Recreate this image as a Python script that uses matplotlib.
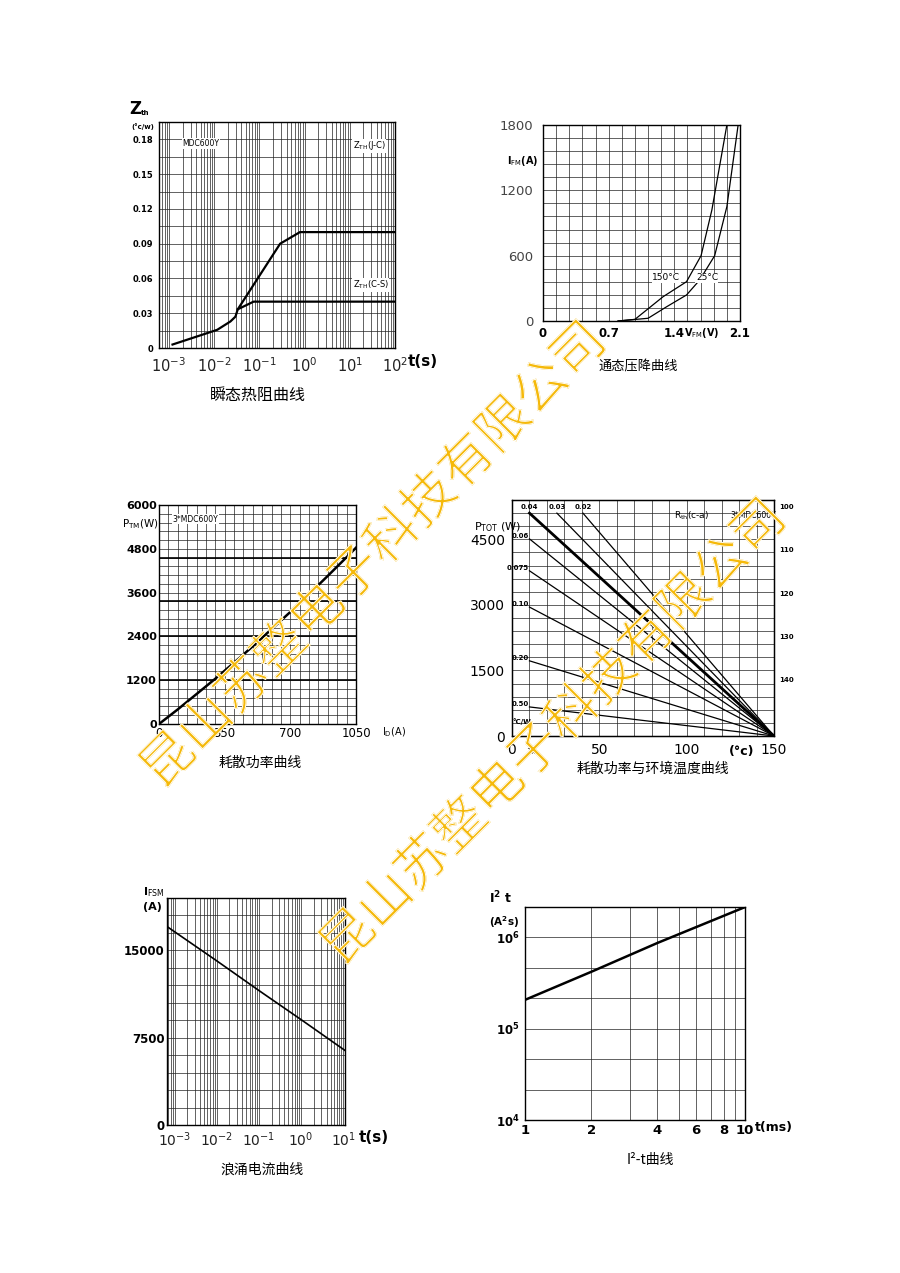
import matplotlib
matplotlib.use('Agg')
import matplotlib.pyplot as plt
import matplotlib.patheffects as pe
from matplotlib.transforms import TransformedPath
import numpy as np

plt.rcParams['font.family'] = ['DejaVu Sans', 'Noto Sans CJK SC']
plt.rcParams['mathtext.default'] = 'regular'
CJK = ['Noto Sans CJK SC', 'DejaVu Sans']

# ---------------- data ----------------
# Panel 1: transient thermal impedance
zth_jc_t = [0.0012, 0.0117, 0.0229, 0.0295, 0.0333, 0.288, 0.79, 100]
zth_jc = [0.003, 0.0157, 0.0229, 0.027, 0.0334, 0.090, 0.100, 0.100]
zth_cs_t = [0.0333, 0.0746, 100]
zth_cs = [0.0334, 0.040, 0.040]
zth_yticks = [0, 0.03, 0.06, 0.09, 0.12, 0.15, 0.18]
zth_ylabels = ['0', '0.03', '0.06', '0.09', '0.12', '0.15', '0.18']
log_ticks_1 = [1e-3, 1e-2, 1e-1, 1e0, 1e1, 1e2]
log_labels_1 = [r'$10^{-3}$', r'$10^{-2}$', r'$10^{-1}$', r'$10^{0}$', r'$10^{1}$', r'$10^{2}$']

# Panel 2: on-state voltage drop
vf_150 = [0.80, 0.98, 1.28, 1.53, 1.685, 1.80, 1.96]
if_150 = [0, 15, 223, 361, 600, 1019, 1800]
vf_25 = [0.80, 1.12, 1.32, 1.53, 1.67, 1.83, 1.96, 2.08]
if_25 = [0, 25, 132, 239, 376, 600, 1050, 1800]
vf_ticks = [0, 0.7, 1.4, 2.1]
vf_labels = ['0', '0.7', '1.4', '2.1']
if_ticks = [0, 600, 1200, 1800]

# Panel 3: dissipated power vs current
pd_i = [0, 100, 200, 300, 400, 500, 600, 700, 800, 900, 1000, 1050]
pd_p = [0, 400, 820, 1240, 1680, 2130, 2600, 3070, 3560, 4060, 4570, 4830]
pd_xticks = [0, 350, 700, 1050]
pd_yticks = [0, 1200, 2400, 3600, 4800, 6000]
pd_darklines = [1200, 2400, 3360, 4560]

# Panel 4: power vs ambient temperature
rth_labels = ['0.02', '0.03', '0.04', '0.06', '0.075', '0.10', '0.20', '0.50']
rth_start_t = [40.6, 25.7, 10, 10, 10, 10, 10, 10]
rth_start_p = [5100, 5100, 5100, 4510, 3780, 2950, 1720, 665]
rth_end_t = 150
rth_end_p = 0
pt_xticks = [0, 50, 100, 150]
pt_yticks = [0, 1500, 3000, 4500]
tc_ticks = [100, 110, 120, 130, 140]

# Panel 5: surge current
fsm_t = [0.00066, 0.01, 0.1, 1, 11]
fsm_i = [17050, 14100, 11550, 9050, 6400]
log_ticks_5 = [1e-3, 1e-2, 1e-1, 1e0, 1e1]
log_labels_5 = [r'$10^{-3}$', r'$10^{-2}$', r'$10^{-1}$', r'$10^{0}$', r'$10^{1}$']
fsm_yticks = [0, 7500, 15000]

# Panel 6: I2t
i2t_t = [1, 2, 4, 10]
i2t_v = [2.07e5, 4.2e5, 8.7e5, 2.15e6]
i2t_xticks = [1, 2, 4, 6, 8, 10]
i2t_xminor = [3, 5, 7, 9]
i2t_yticks = [1e4, 1e5, 1e6]
i2t_ylabels = [r'$\mathbf{10^{4}}$', r'$\mathbf{10^{5}}$', r'$\mathbf{10^{6}}$']

titles = ['瞬态热阻曲线', '通态压降曲线', '耗散功率曲线', '耗散功率与环境温度曲线', '浪涌电流曲线', 'I²-t曲线']
watermark = '昆山苏整电子科技有限公司'

# ---------------- figure ----------------
W, H = 900, 1273
fig = plt.figure(figsize=(9, 12.73), dpi=100)
fig.patch.set_facecolor('white')


def rect(l, t, r, b):
    return [l / W, 1 - b / H, (r - l) / W, (b - t) / H]


def ftext(x, y, s, **kw):
    kw.setdefault('ha', 'left')
    kw.setdefault('va', 'center')
    return fig.text(x / W, 1 - y / H, s, **kw)


GRID = dict(color='#222222', linewidth=0.5)


def style(ax):
    ax.tick_params(which='both', length=0)
    for s in ax.spines.values():
        s.set_linewidth(1.0)
        s.set_color('black')
    ax.grid(True, which='both', **GRID)
    ax.set_axisbelow(True)


def log_minor(lo_exp, hi_exp, lo, hi):
    vals = []
    for e in range(lo_exp, hi_exp + 1):
        for m in range(2, 10):
            v = m * 10.0 ** e
            if lo < v < hi:
                vals.append(v)
    return vals


class ThinGlyphs(pe.AbstractPathEffect):
    """Fill the glyphs, then erode their outline from the inside only."""

    def __init__(self, erode_lw=1.3):
        super().__init__()
        self.erode_lw = erode_lw

    def draw_path(self, renderer, gc, tpath, affine, rgbFace=None):
        renderer.draw_path(gc, tpath, affine, rgbFace)
        gc0 = renderer.new_gc()
        gc0.copy_properties(gc)
        gc0.set_foreground('white')
        gc0.set_linewidth(self.erode_lw)
        gc0.set_clip_path(TransformedPath(tpath, affine))
        renderer.draw_path(gc0, tpath, affine, None)
        gc0.restore()


# ---- Panel 1 ----
ax1 = fig.add_axes(rect(159, 122, 395, 348))
ax1.set_xscale('log')
x1lo, x1hi = 10 ** -3.22, 1e2
ax1.set_xlim(x1lo, x1hi)
ax1.set_ylim(0, 0.195)
ax1.set_xticks(log_ticks_1, log_labels_1, fontsize=10.5, color='#222222')
ax1.set_xticks(log_minor(-4, 2, x1lo, x1hi), minor=True)
ax1.xaxis.set_minor_formatter(matplotlib.ticker.NullFormatter())
ax1.set_yticks(zth_yticks, zth_ylabels, fontsize=6, fontweight='bold')
ax1.set_yticks(np.arange(0.015, 0.195, 0.03), minor=True)
style(ax1)
ax1.tick_params(axis='y', pad=4)
ax1.tick_params(axis='x', pad=6)
ax1.plot(zth_jc_t, zth_jc, color='black', lw=1.6)
ax1.plot(zth_cs_t, zth_cs, color='black', lw=1.6)
ax1.text(0.10, 0.905, 'MDC600Y', transform=ax1.transAxes, fontsize=5.5,
         ha='left', va='center', bbox=dict(fc='white', ec='none', pad=0.5))
ax1.text(0.82, 0.895, r'Z$_{\rm TH}$(J-C)', transform=ax1.transAxes, fontsize=6,
         ha='left', va='center', bbox=dict(fc='white', ec='none', pad=0.5))
ax1.text(0.82, 0.28, r'Z$_{\rm TH}$(C-S)', transform=ax1.transAxes, fontsize=6,
         ha='left', va='center', bbox=dict(fc='white', ec='none', pad=0.5))
ftext(129, 109, 'Z', fontsize=12, fontweight='bold')
ftext(141, 113, 'th', fontsize=5, fontweight='bold')
ftext(131, 127, '(°c/w)', fontsize=5, fontweight='bold')
ftext(408, 362, 't(s)', fontsize=11, fontweight='bold')
ftext(258, 395, titles[0], fontsize=11.5, ha='center', family=CJK)

# ---- Panel 2 ----
ax2 = fig.add_axes(rect(543, 125, 740, 321))
ax2.set_xlim(0, 2.1)
ax2.set_ylim(0, 1800)
ax2.set_xticks(vf_ticks, vf_labels, fontsize=8.5, fontweight='bold')
ax2.set_xticks(np.arange(0.14, 2.1, 0.14), minor=True)
ax2.set_yticks(if_ticks, [str(v) for v in if_ticks], fontsize=9.5, color='#444444')
ax2.set_yticks(np.arange(120, 1800, 120), minor=True)
style(ax2)
ax2.tick_params(axis='y', pad=7)
ax2.tick_params(axis='x', pad=4)
ax2.plot(vf_150, if_150, color='black', lw=0.9)
ax2.plot(vf_25, if_25, color='black', lw=0.9)
ax2.text(1.165, 395, '150°C', fontsize=6.5, ha='left', va='center',
         bbox=dict(fc='white', ec='none', pad=0.3))
ax2.text(1.63, 395, '25°C', fontsize=6.5, ha='left', va='center',
         bbox=dict(fc='white', ec='none', pad=0.3))
ftext(507, 161, r'I$_{\rm FM}$(A)', fontsize=7, fontweight='bold')
ftext(684, 333, r'V$_{\rm FM}$(V)', fontsize=7, fontweight='bold')
ftext(638, 367, titles[1], fontsize=9.5, ha='center', family=CJK)

# ---- Panel 3 ----
ax3 = fig.add_axes(rect(159, 505, 356, 724))
ax3.set_xlim(0, 1050)
ax3.set_ylim(0, 6000)
ax3.set_xticks(pd_xticks, [str(v) for v in pd_xticks], fontsize=8.5)
ax3.set_xticks(np.arange(50, 1050, 50), minor=True)
ax3.set_yticks(pd_yticks, [str(v) for v in pd_yticks], fontsize=8, fontweight='bold')
ax3.set_yticks(np.arange(240, 6000, 240), minor=True)
style(ax3)
ax3.tick_params(axis='y', pad=1.5)
ax3.tick_params(axis='x', pad=2.5)
for v in pd_darklines:
    ax3.axhline(v, color='black', lw=1.2, zorder=1.5)
ax3.plot(pd_i, pd_p, color='black', lw=1.8)
ax3.text(0.07, 0.935, '3*MDC600Y', transform=ax3.transAxes, fontsize=5.5,
         ha='left', va='center', bbox=dict(fc='white', ec='none', pad=0.5))
ftext(122, 524, r'P$_{\rm TM}$(W)', fontsize=7.5)
ftext(382, 732, r'I$_{\rm D}$(A)', fontsize=7)
ftext(260, 763, titles[2], fontsize=10, ha='center', family=CJK)

# ---- Panel 4 ----
ax4 = fig.add_axes(rect(512, 500, 774, 736))
ax4.set_xlim(0, 150)
ax4.set_ylim(0, 5400)
ax4.set_xticks(pt_xticks, [str(v) for v in pt_xticks], fontsize=10)
ax4.set_xticks(np.arange(10, 150, 10), minor=True)
ax4.set_yticks(pt_yticks, [str(v) for v in pt_yticks], fontsize=10)
ax4.set_yticks(np.arange(300, 5400, 300), minor=True)
style(ax4)
ax4.tick_params(axis='y', pad=5)
ax4.tick_params(axis='x', pad=5)
for lab, t0, p0 in zip(rth_labels, rth_start_t, rth_start_p):
    lw = 2.0 if lab == '0.04' else 0.9
    ax4.plot([t0, rth_end_t], [p0, rth_end_p], color='black', lw=lw)
    if p0 >= 5100:
        ax4.text(t0, p0 + 70, lab, fontsize=5, fontweight='bold', ha='center', va='bottom')
    else:
        ax4.text(t0 - 0.5, p0, lab, fontsize=5, fontweight='bold', ha='right', va='bottom')
ax4.text(0.4, 330, '°C/W', fontsize=5, fontweight='bold', ha='left', va='center')
ax4.text(0.62, 0.935, r'R$_{\rm th}$(c-a)', transform=ax4.transAxes, fontsize=6.5,
         ha='left', va='center')
ax4.text(0.835, 0.935, '3*MDC600Y', transform=ax4.transAxes, fontsize=5.5,
         ha='left', va='center')
ax4r = ax4.twinx()
ax4r.set_ylim(152.9, 98.6)
ax4r.set_yticks(tc_ticks, [str(v) for v in tc_ticks], fontsize=5, fontweight='bold')
ax4r.tick_params(length=0, pad=4)
ftext(474, 527, r'P$_{\rm TOT}$ (W)', fontsize=8)
ftext(729, 752, '(°c)', fontsize=9, fontweight='bold')
ftext(527, 752, r'T$_{\rm A}$', fontsize=5)
ftext(653, 769, titles[3], fontsize=10, ha='center', family=CJK)

# ---- Panel 5 ----
ax5 = fig.add_axes(rect(167, 898, 345, 1125))
ax5.set_xscale('log')
x5lo, x5hi = 10 ** -3.18, 10 ** 1.04
ax5.set_xlim(x5lo, x5hi)
ax5.set_ylim(0, 19500)
ax5.set_xticks(log_ticks_5, log_labels_5, fontsize=10, color='#222222')
ax5.set_xticks(log_minor(-4, 1, x5lo, x5hi), minor=True)
ax5.xaxis.set_minor_formatter(matplotlib.ticker.NullFormatter())
ax5.set_yticks(fsm_yticks, [str(v) for v in fsm_yticks], fontsize=8.5, fontweight='bold')
ax5.set_yticks(np.arange(1500, 19500, 1500), minor=True)
style(ax5)
ax5.tick_params(axis='y', pad=1.5)
ax5.tick_params(axis='x', pad=4)
ax5.plot(fsm_t, fsm_i, color='black', lw=1.2)
ftext(143, 892, r'I$_{\rm FSM}$', fontsize=8, fontweight='bold')
ftext(143, 907, '(A)', fontsize=8, fontweight='bold')
ftext(359, 1138, 't(s)', fontsize=11, fontweight='bold')
ftext(262, 1170, titles[4], fontsize=10, ha='center', family=CJK)

# ---- Panel 6 ----
ax6 = fig.add_axes(rect(525, 907, 745, 1120))
ax6.set_xscale('log')
ax6.set_yscale('log')
ax6.set_xlim(1, 10)
ax6.set_ylim(1e4, 10 ** (19 / 3))
ax6.set_xticks(i2t_xticks, [str(v) for v in i2t_xticks], fontsize=9.5, fontweight='bold')
ax6.set_xticks(i2t_xminor, minor=True)
ax6.xaxis.set_minor_formatter(matplotlib.ticker.NullFormatter())
ax6.set_yticks(i2t_yticks, i2t_ylabels, fontsize=8.5)
ax6.set_yticks([10 ** (4 + k / 3) for k in (1, 2, 4, 5, 7)], minor=True)
ax6.yaxis.set_minor_formatter(matplotlib.ticker.NullFormatter())
style(ax6)
ax6.tick_params(axis='y', pad=4)
ax6.tick_params(axis='x', pad=3)
ax6.plot(i2t_t, i2t_v, color='black', lw=1.8)
ftext(489, 898, r'I$^{\bf 2}$ t', fontsize=9, fontweight='bold')
ftext(489, 922, r'(A$^{\bf 2}$s)', fontsize=7.5, fontweight='bold')
ftext(755, 1128, 't(ms)', fontsize=9, fontweight='bold')
ftext(650, 1160, titles[5], fontsize=10, ha='center', family=CJK)

# ---- watermark ----
for cx, cy in [(374, 556), (554, 733)]:
    fig.text(cx / W, 1 - cy / H, watermark, fontsize=38, color='#F5B90A',
             rotation=45, rotation_mode='anchor', ha='center', va='center',
             family=CJK, zorder=20, path_effects=[ThinGlyphs(1.3)])

fig.savefig('out.png', dpi=100, facecolor='white')
